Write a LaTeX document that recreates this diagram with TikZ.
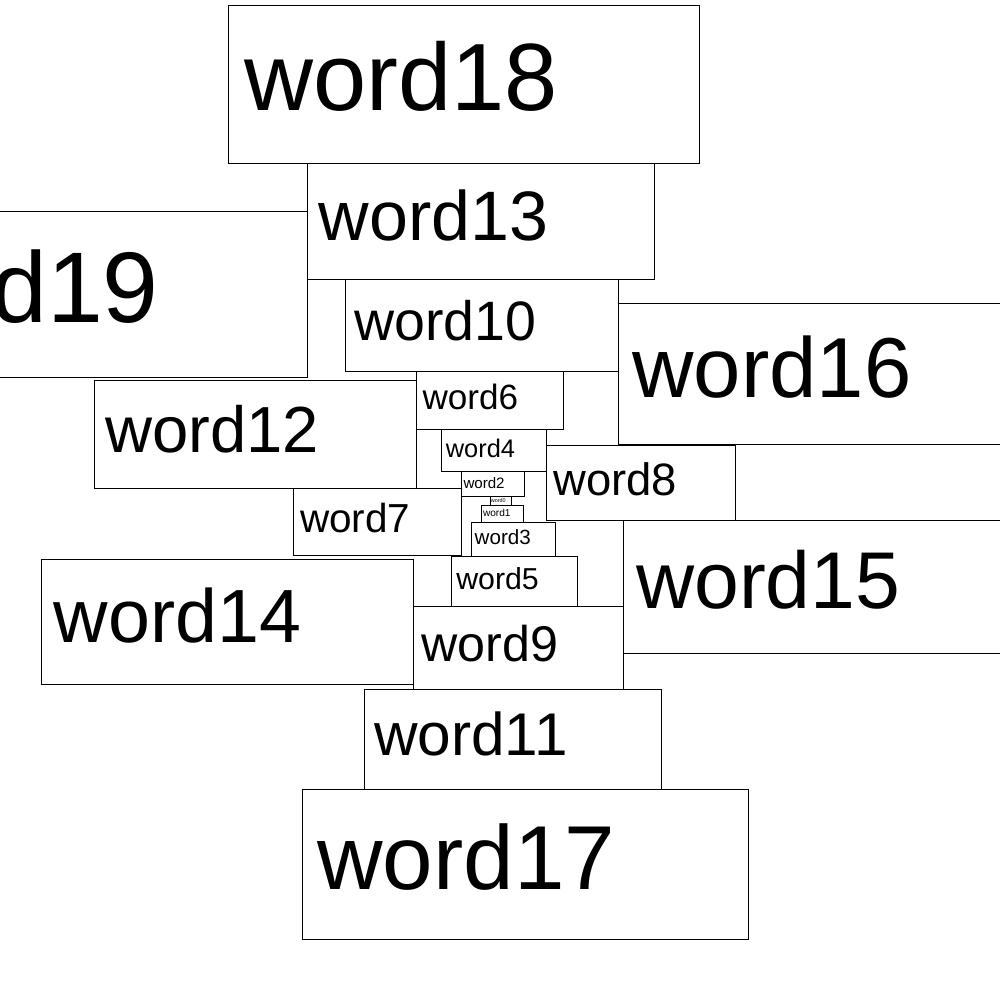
\documentclass[tikz,border=0pt]{standalone}
\usepackage{fontspec}
\setmainfont{Liberation Sans}
\usepackage{tikz}
\usetikzlibrary{positioning}

\newcommand\fsz[1]{\fontsize{#1}{#1}\selectfont}

\begin{document}
\begin{tikzpicture}[
  x=1pt,y=-1pt,
  wbox/.style={draw,line width=0.9pt,inner sep=0pt,outer sep=0pt,anchor=north west},
  wtext/.style={inner sep=0pt,outer sep=0pt,anchor=base west}
]
  \useasboundingbox (0,0) rectangle (1000,1000);
  \clip (0,0) rectangle (1000,1000);

  % boxes, biggest first
  \node[wbox,minimum width=471,minimum height=158]   (w18) at (228.3,5.3)   {};
  \node[wbox,minimum width=347,minimum height=115.7] (w13) at (307.3,163.3) {};
  \node[wbox,minimum width=494.3,minimum height=166] (w19) at (-187,211.3)  {};
  \node[wbox,minimum width=273,minimum height=91.7]  (w10) at (345.3,279.3) {};
  \node[wbox,minimum width=419.5,minimum height=140.7] (w16) at (618.3,303.3) {};
  \node[wbox,minimum width=146.3,minimum height=58]  (w6)  at (416.7,371)   {};
  \node[wbox,minimum width=322.4,minimum height=107.7] (w12) at (94.3,380.3) {};
  \node[wbox,minimum width=104.3,minimum height=42]  (w4)  at (441.7,429.3) {};
  \node[wbox,minimum width=189.3,minimum height=75]  (w8)  at (546,445)     {};
  \node[wbox,minimum width=63.3,minimum height=25]   (w2)  at (461,471.3)   {};
  \node[wbox,minimum width=167.7,minimum height=67]  (w7)  at (293.3,488)   {};
  \node[wbox,minimum width=21.3,minimum height=9]    (w0)  at (490,496.3)   {};
  \node[wbox,minimum width=42,minimum height=16.7]   (w1)  at (481.3,505.3) {};
  \node[wbox,minimum width=396,minimum height=133]   (w15) at (623,520)     {};
  \node[wbox,minimum width=84,minimum height=34]     (w3)  at (471.3,522)   {};
  \node[wbox,minimum width=126,minimum height=50]    (w5)  at (451.3,556)   {};
  \node[wbox,minimum width=372,minimum height=124.7] (w14) at (41.3,559.3)  {};
  \node[wbox,minimum width=209.7,minimum height=83]  (w9)  at (413.3,606)   {};
  \node[wbox,minimum width=297,minimum height=99.7]  (w11) at (364.3,689.3) {};
  \node[wbox,minimum width=446,minimum height=150]   (w17) at (302.3,789)   {};

  % words
  \node[wtext,font=\fsz{95.6}] (t18) at (244.1,110.8) {word18};
  \node[wtext,font=\fsz{70}]   (t13) at (318.9,240.6) {word13};
  \node[wtext,font=\fsz{100.4}] (t19) at (-170.4,322.2) {word19};
  \node[wtext,font=\fsz{55.5}] (t10) at (354.5,340.6) {word10};
  \node[wtext,font=\fsz{85.1}] (t16) at (632.4,397.3) {word16};
  \node[wtext,font=\fsz{35.1}] (t6)  at (422.5,409.7) {word6};
  \node[wtext,font=\fsz{65.2}] (t12) at (105.1,452.2) {word12};
  \node[wtext,font=\fsz{25.4}] (t4)  at (445.9,457.4) {word4};
  \node[wtext,font=\fsz{45.4}] (t8)  at (553.5,495.1) {word8};
  \node[wtext,font=\fsz{15.1}] (t2)  at (463.5,488)   {word2};
  \node[wtext,font=\fsz{40.5}] (t7)  at (300,532.8)   {word7};
  \node[wtext,font=\fsz{5.4}]  (t0)  at (490.9,502.3) {word0};
  \node[wtext,font=\fsz{10.1}] (t1)  at (483,516.5)   {word1};
  \node[wtext,font=\fsz{80.5}] (t15) at (636.3,608.8) {word15};
  \node[wtext,font=\fsz{20.6}] (t3)  at (474.7,544.7) {word3};
  \node[wtext,font=\fsz{30.3}] (t5)  at (456.3,589.4) {word5};
  \node[wtext,font=\fsz{75.4}] (t14) at (53.8,642.6)  {word14};
  \node[wtext,font=\fsz{50.2}] (t9)  at (421.6,661.4) {word9};
  \node[wtext,font=\fsz{60.3}] (t11) at (374.3,755.9) {word11};
  \node[wtext,font=\fsz{90.8}] (t17) at (317.3,889.2) {word17};
\end{tikzpicture}
\end{document}
